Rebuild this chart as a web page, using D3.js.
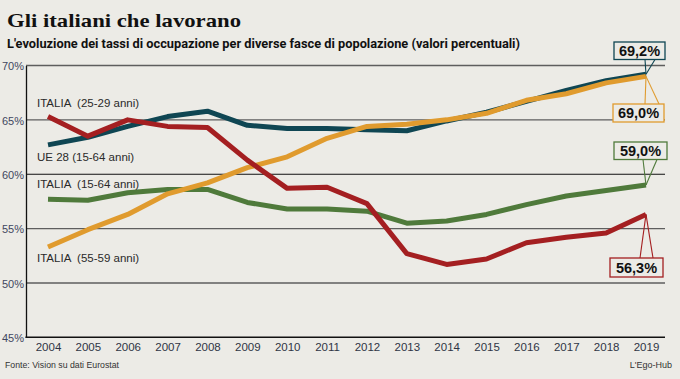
<!DOCTYPE html>
<html>
<head>
<meta charset="utf-8">
<script src="https://cdn.jsdelivr.net/npm/d3@7"></script>
<style>
  html, body { margin: 0; padding: 0; background: #ecebe6; }
  svg { display: block; }
</style>
</head>
<body>
<script>
const years = [2004,2005,2006,2007,2008,2009,2010,2011,2012,2013,2014,2015,2016,2017,2018,2019];
const ue28_1564   = [62.7,63.4,64.4,65.3,65.8,64.5,64.2,64.2,64.1,64.0,64.9,65.7,66.7,67.7,68.6,69.2];
const italia_1564 = [57.7,57.6,58.3,58.6,58.6,57.4,56.8,56.8,56.6,55.5,55.7,56.3,57.2,58.0,58.5,59.0];
const italia_2529 = [65.3,63.5,65.0,64.4,64.3,61.3,58.7,58.8,57.3,52.7,51.7,52.2,53.7,54.2,54.6,56.3];
const italia_5559 = [53.3,54.9,56.3,58.2,59.2,60.6,61.6,63.3,64.4,64.6,65.0,65.6,66.8,67.4,68.4,69.0];
const yTicks = [45,50,55,60,65,70];
const seriesNames = ["UE 28 (15-64 anni)","ITALIA  (15-64 anni)","ITALIA  (55-59 anni)","ITALIA  (25-29 anni)"];

const W = 680, H = 379;
const svg = d3.select("body").append("svg").attr("width", W).attr("height", H);
svg.append("rect").attr("width", W).attr("height", H).attr("fill", "#ecebe6");

const x = d3.scalePoint().domain(years).range([48, 646]);
const y = d3.scaleLinear().domain([45, 70]).range([337.3, 65.5]);
const axisX = 26, gridRight = 665;

// Title
svg.append("text").attr("x", 7).attr("y", 27)
  .attr("font-family", "Liberation Serif").attr("font-weight", "bold").attr("font-size", 19.5)
  .attr("fill", "#111").attr("textLength", 234).attr("lengthAdjust", "spacingAndGlyphs")
  .text("Gli italiani che lavorano");
svg.append("text").attr("x", 7).attr("y", 48)
  .attr("font-family", "Roboto").attr("font-weight", "bold").attr("font-size", 12)
  .attr("fill", "#111").attr("textLength", 513).attr("lengthAdjust", "spacingAndGlyphs")
  .text("L'evoluzione dei tassi di occupazione per diverse fasce  di popolazione (valori percentuali)");

// Gridlines
const grid = svg.append("g");
yTicks.filter(t => t > 45).forEach(t => {
  grid.append("line").attr("x1", axisX).attr("x2", gridRight)
    .attr("y1", y(t)).attr("y2", y(t))
    .attr("stroke", t === 60 ? "#111" : "#5e5e5e").attr("stroke-width", t === 60 ? 1.1 : 1.4);
});

// Y axis
const yAxis = d3.axisLeft(y).tickValues(yTicks).tickSize(0).tickPadding(2).tickFormat(d => d + "%");
const gy = svg.append("g").attr("transform", `translate(${axisX},0)`).call(yAxis);
gy.select(".domain").attr("stroke", "#111").attr("stroke-width", 1.3);
gy.selectAll("text").attr("font-family", "Liberation Sans").attr("font-size", 11)
  .attr("fill", "#3f4760").attr("dy", "0.4em");

// X axis
const xAxis = d3.axisBottom(x).tickSize(0).tickPadding(5).tickFormat(d3.format("d"));
const gx = svg.append("g").attr("transform", `translate(0,${y(45)})`).call(xAxis);
gx.select(".domain").remove();
gx.append("line").attr("x1", axisX - 0.6).attr("x2", gridRight).attr("y1", 0).attr("y2", 0)
  .attr("stroke", "#111").attr("stroke-width", 1.4);
gx.selectAll("text").attr("font-family", "Liberation Sans").attr("font-size", 11.5)
  .attr("fill", "#2f3545").attr("dy", "0.75em");

// Lines
const series = [
  { name: seriesNames[0], values: ue28_1564,   color: "#0f4653" },
  { name: seriesNames[1], values: italia_1564, color: "#4f7a3b" },
  { name: seriesNames[2], values: italia_5559, color: "#e09b2e" },
  { name: seriesNames[3], values: italia_2529, color: "#a41f21" }
];
const line = d3.line().x((d, i) => x(years[i])).y(d => y(d));
series.forEach(s => {
  svg.append("path").datum(s.values).attr("d", line)
    .attr("fill", "none").attr("stroke", s.color).attr("stroke-width", 5)
    .attr("stroke-linejoin", "round").attr("stroke-linecap", "butt");
});

// Series labels
const labelY = { [seriesNames[3]]: 103, [seriesNames[0]]: 157, [seriesNames[1]]: 184, [seriesNames[2]]: 258 };
series.forEach(s => {
  svg.append("text").attr("x", 37).attr("y", labelY[s.name]).attr("dy", "0.36em")
    .attr("font-family", "Liberation Sans").attr("font-size", 11.5).attr("fill", "#2a2a2a")
    .style("white-space", "pre")
    .text(s.name);
});

// End value callouts
const fmt = v => d3.format(".1f")(v).replace(".", ",") + "%";
const callouts = [
  { s: series[0], box: [614, 42, 51, 17.5], p: [645, 655] },
  { s: series[2], box: [613, 104, 51, 18],  p: [645, 659] },
  { s: series[1], box: [614, 142, 53, 17.5], p: [643, 657] },
  { s: series[3], box: [610, 258, 53, 19],  p: [640, 653] }
];
callouts.forEach(c => {
  const v = c.s.values[c.s.values.length - 1];
  const px = x(years[years.length - 1]), py = y(v);
  const [bx, by, bw, bh] = c.box;
  const edgeY = by > py ? by : by + bh;
  const g = svg.append("g");
  c.p.forEach(ex => {
    g.append("line").attr("x1", ex).attr("y1", edgeY).attr("x2", px).attr("y2", py)
      .attr("stroke", c.s.color).attr("stroke-width", 1.1);
  });
  g.append("rect").attr("x", bx).attr("y", by).attr("width", bw).attr("height", bh)
    .attr("fill", "#ecebe6").attr("stroke", c.s.color).attr("stroke-width", 1.3);
  g.append("text").attr("x", bx + bw / 2).attr("y", by + bh / 2).attr("dy", "0.36em")
    .attr("text-anchor", "middle").attr("font-family", "Liberation Sans").attr("font-weight", "bold")
    .attr("font-size", 14.5).attr("fill", "#111").text(fmt(v));
});

// Footer
svg.append("text").attr("x", 5).attr("y", 368)
  .attr("font-family", "Liberation Sans").attr("font-size", 9).attr("fill", "#333")
  .attr("textLength", 114).attr("lengthAdjust", "spacingAndGlyphs")
  .text("Fonte: Vision su dati Eurostat");
svg.append("text").attr("x", 672).attr("y", 368).attr("text-anchor", "end")
  .attr("font-family", "Liberation Sans").attr("font-size", 9).attr("fill", "#333")
  .text("L'Ego-Hub");
</script>
</body>
</html>
